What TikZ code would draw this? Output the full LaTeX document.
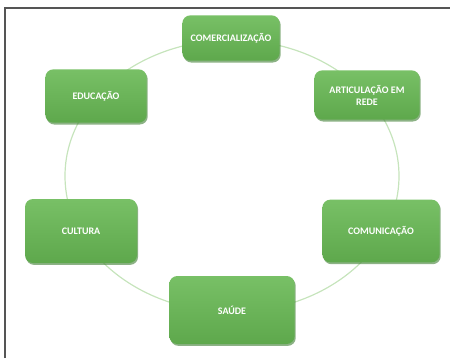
\documentclass[tikz,border=0pt]{standalone}
\usepackage{fontspec}
\setmainfont{Carlito}
\usetikzlibrary{shadows}
\definecolor{boxTop}{HTML}{78C066}
\definecolor{boxBottom}{HTML}{5EA84C}
\definecolor{boxShadow}{HTML}{3F7F33}
\definecolor{ringGreen}{HTML}{C6E4BC}
\definecolor{frameGray}{HTML}{555555}
\tikzset{
	TopicStyle/.style={
		rounded corners=6pt,
		top color=boxTop,
		bottom color=boxBottom,
		draw=none,
		text=white,
		align=center,
		font=\fontsize{7.5}{9}\selectfont\bfseries,
		drop shadow={shadow xshift=0.8pt, shadow yshift=-1.4pt, fill=boxShadow, opacity=0.6}
	},
}
\begin{document}
\begin{tikzpicture}[x=0.75pt,y=-0.75pt]
\useasboundingbox (0,0) rectangle (450,358);
\draw[frameGray, line width=1.3pt] (5,358) -- (5,8) -- (450,8);
\draw[ringGreen, line width=0.9pt] (232,176) ellipse [x radius=167, y radius=136];

\node[TopicStyle, minimum width=73pt, minimum height=34pt] (comercializacao) at (231,38) {COMERCIALIZAÇÃO};
\node[TopicStyle, minimum width=79pt, minimum height=37pt] (articulacao) at (367,95) {ARTICULAÇÃO EM\\REDE};
\node[TopicStyle, minimum width=76pt, minimum height=40pt] (educacao) at (96,96) {EDUCAÇÃO};
\node[TopicStyle, minimum width=84pt, minimum height=48pt] (cultura) at (81,231) {CULTURA};
\node[TopicStyle, minimum width=88pt, minimum height=47pt] (comunicacao) at (381,231) {COMUNICAÇÃO};
\node[TopicStyle, minimum width=94pt, minimum height=51pt] (saude) at (232,310) {SAÚDE};
\end{tikzpicture}
\end{document}
